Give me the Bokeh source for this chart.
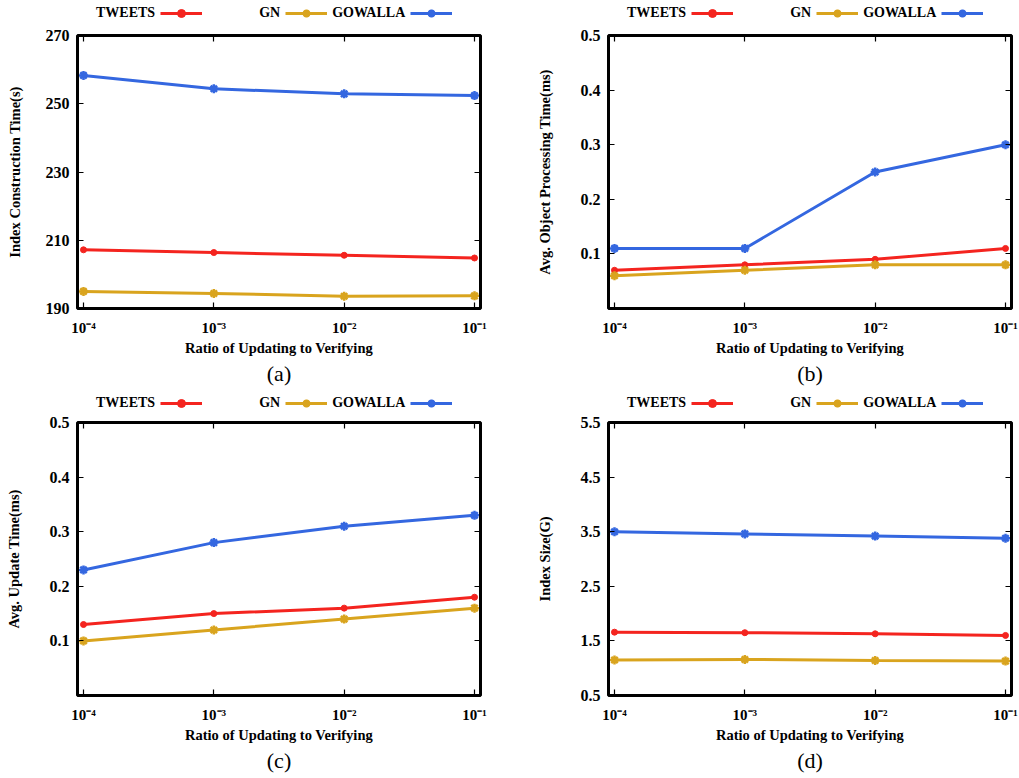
from bokeh.plotting import figure
from bokeh.layouts import column, row
from bokeh.models import (Legend, LegendItem, FixedTicker, LinearAxis, LogAxis,
                          Title, Range1d, CustomLabelingPolicy, ColumnDataSource)
from bokeh.embed import file_html
from bokeh.resources import INLINE

# ---------------- data ----------------
ratios = [1e-4, 1e-3, 1e-2, 1e-1]
ratio_labels = ["10\u207b\u2074", "10\u207b\u00b3", "10\u207b\u00b2", "10\u207b\u00b9"]
series_names = ["TWEETS", "GN", "GOWALLA"]

a_tweets = [207.2, 206.4, 205.6, 204.8]
a_gn = [195.0, 194.4, 193.6, 193.7]
a_gowalla = [258.3, 254.4, 252.9, 252.4]

b_tweets = [0.07, 0.08, 0.09, 0.11]
b_gn = [0.06, 0.07, 0.08, 0.08]
b_gowalla = [0.11, 0.11, 0.25, 0.30]

c_tweets = [0.13, 0.15, 0.16, 0.18]
c_gn = [0.10, 0.12, 0.14, 0.16]
c_gowalla = [0.23, 0.28, 0.31, 0.33]

d_tweets = [1.66, 1.65, 1.63, 1.60]
d_gn = [1.15, 1.16, 1.14, 1.13]
d_gowalla = [3.50, 3.46, 3.42, 3.38]

a_yticks = [190, 210, 230, 250, 270]
b_yticks = [0.1, 0.2, 0.3, 0.4, 0.5]
c_yticks = [0.1, 0.2, 0.3, 0.4, 0.5]
d_yticks = [0.5, 1.5, 2.5, 3.5, 4.5, 5.5]

# ---------------- style ----------------
FONT = "Liberation Serif"
RED = "#f4241f"
GOLD = "#d9a41e"
BLUE = "#3467e0"
colors = [RED, GOLD, BLUE]
BLANK = "\u200b"

NO_LABELS = """
for (const i of indices) {
    indices.unset(i)
}
return indices
"""


def add_series(p, src, name, col, visible=True):
    ln = p.line("x", "y", source=src, line_color=col, line_width=3,
                visible=visible)
    if name == "TWEETS":
        mk = p.scatter("x", "y", source=src, marker="circle", size=6,
                       fill_color=col, line_color=col, visible=visible)
    else:
        mk = p.scatter("x", "y", source=src, marker="asterisk", size=9,
                       line_color=col, line_width=2.5, visible=visible)
    return ln, mk


def make_legend_fig(width, height, series, vy):
    # legend-only strip above a panel; its frame is aligned with the panel's
    lf = figure(width=width, height=height, x_range=Range1d(0, 1),
                y_range=Range1d(0, 1), x_axis_location=None,
                y_axis_location=None, output_backend="svg",
                toolbar_location=None, min_border=0)
    lf.outline_line_color = None
    lf.xgrid.visible = False
    lf.ygrid.visible = False
    rends = []
    for name, vals, col in zip(series_names, series, colors):
        src = ColumnDataSource(data=dict(x=ratios, y=vals))
        rends.append(add_series(lf, src, name, col, visible=False))
    dummy = lf.line(ratios, series[0], line_alpha=0, visible=False)
    items = [
        LegendItem(label="TWEETS", renderers=[dummy]),
        LegendItem(label=BLANK, renderers=list(rends[0])),
        LegendItem(label="GN", renderers=[dummy]),
        LegendItem(label="GOWALLA", renderers=list(rends[1])),
        LegendItem(label=BLANK, renderers=list(rends[2])),
    ]
    leg = Legend(items=items, orientation="horizontal", location=(-28, vy),
                 glyph_width=42, glyph_height=20, label_height=20,
                 label_width=0, label_standoff=5, spacing=5, padding=0,
                 margin=0, border_line_color=None, background_fill_alpha=0,
                 label_text_font=FONT, label_text_font_style="bold",
                 label_text_font_size="14px", label_text_color="black")
    lf.add_layout(leg, "center")
    return lf


def make_panel(width, height, border_left, frame_w, top_b, frame_h,
               yrange, yticks, ylabel, series, caption, cap_offset,
               ylabel_standoff):
    pad = 0.046
    p = figure(width=width, height=height, x_axis_type="log",
               x_range=Range1d(10 ** (-4 - pad), 10 ** (-1 + pad)),
               y_range=Range1d(*yrange),
               output_backend="svg", toolbar_location=None,
               min_border_left=border_left,
               min_border_right=width - border_left - frame_w,
               min_border_top=top_b,
               min_border_bottom=height - top_b - frame_h)
    p.xgrid.visible = False
    p.ygrid.visible = False
    p.outline_line_color = "black"
    p.outline_line_width = 3
    p.background_fill_color = "white"
    p.border_fill_color = "white"

    xa = p.xaxis[0]
    xa.ticker = FixedTicker(ticks=ratios)
    xa.major_label_overrides = {r: l for r, l in zip(ratios, ratio_labels)}
    xa.axis_label = "Ratio of Updating to Verifying"
    ya = p.yaxis[0]
    ya.ticker = FixedTicker(ticks=yticks)
    ya.axis_label = ylabel
    for ax in (xa, ya):
        ax.axis_line_color = None
        ax.major_tick_in = 6
        ax.major_tick_out = 0
        ax.major_tick_line_width = 1.2
        ax.major_tick_line_color = "black"
        ax.minor_tick_line_color = None
        ax.major_label_text_font = FONT
        ax.major_label_text_font_style = "bold"
        ax.major_label_text_color = "black"
        ax.axis_label_text_font = FONT
        ax.axis_label_text_font_style = "bold"
        ax.axis_label_text_font_size = "14.5px"
        ax.axis_label_text_color = "black"
    xa.major_label_text_font_size = "15px"
    ya.major_label_text_font_size = "16px"
    xa.major_label_standoff = 11
    xa.axis_label_standoff = 1
    ya.major_label_standoff = 8
    ya.axis_label_standoff = ylabel_standoff

    # mirrored ticks on top and right (no labels)
    top = LogAxis(ticker=FixedTicker(ticks=ratios), axis_line_color=None,
                  major_tick_in=6, major_tick_out=0, major_tick_line_width=1.2,
                  minor_tick_line_color=None,
                  major_label_policy=CustomLabelingPolicy(code=NO_LABELS),
                  major_label_text_font_size="2px",
                  major_label_standoff=0)
    right = LinearAxis(ticker=FixedTicker(ticks=yticks), axis_line_color=None,
                       major_tick_in=6, major_tick_out=0, major_tick_line_width=1.2,
                       minor_tick_line_color=None,
                       major_label_policy=CustomLabelingPolicy(code=NO_LABELS),
                       major_label_text_font_size="2px",
                       major_label_standoff=0)
    p.add_layout(top, "above")
    p.add_layout(right, "right")

    for name, vals, col in zip(series_names, series, colors):
        add_series(p, ColumnDataSource(data=dict(x=ratios, y=vals)), name, col)

    p.add_layout(Title(text=caption, align="center", offset=cap_offset,
                       text_font=FONT, text_font_style="normal",
                       text_font_size="22px", text_color="black",
                       standoff=1), "below")
    return p


sa = [a_tweets, a_gn, a_gowalla]
sb = [b_tweets, b_gn, b_gowalla]
sc = [c_tweets, c_gn, c_gowalla]
sd = [d_tweets, d_gn, d_gowalla]

la = make_legend_fig(510, 25, sa, 2)
lb = make_legend_fig(509, 25, sb, 2)
lc = make_legend_fig(510, 18, sc, 0)
ld = make_legend_fig(509, 18, sd, 0)

pa = make_panel(510, 370, 77, 403, 10, 273, (190, 270), a_yticks,
                "Index Construction Time(s)", sa, "(a)", -23, 20)
pb = make_panel(509, 370, 98, 403, 10, 273, (0, 0.5), b_yticks,
                "Avg. Object Processing Time(ms)", sb, "(b)", -24, 25)
pc = make_panel(510, 365, 77, 403, 9, 273, (0, 0.5), c_yticks,
                "Avg. Update Time(ms)", sc, "(c)", -24, 25)
pd = make_panel(509, 365, 98, 403, 9, 273, (0.5, 5.5), d_yticks,
                "Index Size(G)", sd, "(d)", -24, 25)

layout = column(row(column(la, pa), column(lb, pb)),
                row(column(lc, pc), column(ld, pd)))
open("out.html", "w").write(file_html(layout, INLINE))
